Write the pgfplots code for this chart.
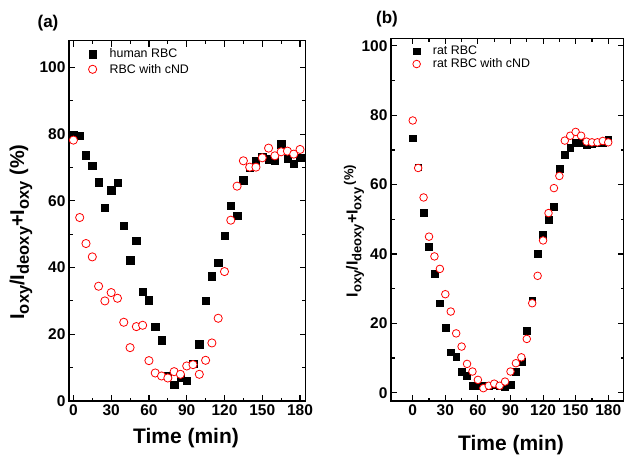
\documentclass[border=0pt]{standalone}
\usepackage{fontspec}
\setmainfont{Liberation Sans}
\usepackage{pgfplots}
\pgfplotsset{compat=1.18}
\definecolor{oxred}{HTML}{FF0000}
\newcommand\sub[2]{\raisebox{-0.45ex}{\fontsize{#1}{#1}\selectfont #2}}

\pgfplotsset{
  panel/.style={
    scale only axis,
    axis line style={line width=1.3pt},
    tick style={line width=1.1pt, black},
    tick align=inside,
    xtick pos=both, ytick pos=both,
    major tick length=6pt,
    minor tick length=3.5pt,
    xtick={0,30,...,180},
    minor xtick={15,45,...,165},
    ytick={0,20,...,100},
    minor ytick={10,30,...,90},
    /pgf/number format/assume math mode=true,
    ticklabel style={font=\bfseries\fontsize{15.5}{15.5}\selectfont},
    legend cell align=left,
    legend image code/.code={\draw[##1] plot coordinates {(4pt,0pt)};},
  },
  sq/.style={only marks, mark=square*, black, mark options={solid}},
  ci/.style={only marks, mark=*, oxred, mark options={solid, fill=white, line width=0.8pt}},
}

\begin{document}
\begin{tikzpicture}[x=1pt,y=1pt]
\useasboundingbox (0,0) rectangle (624,-457);

% ---- panel (a)
\begin{axis}[panel,
  at={(69pt,-401pt)}, anchor=south west,
  width=236.7pt, height=360.3pt,
  xmin=-3.5, xmax=184.5, ymin=0, ymax=108,
  legend style={at={(axis description cs:0.069,0.989)}, anchor=north west,
    draw=none, fill=none, font=\fontsize{12.4}{12.4}\selectfont,
    row sep=0.7pt, /tikz/every odd column/.append style={column sep=11pt}},
]
\addplot[sq, mark size=3.7pt] coordinates {
(0,79.9)(5,79.5)(10,73.7)(15,70.6)(20,65.6)(25,57.9)(30,63.2)(35,65.4)(40,52.6)(45,42.2)
(50,48.1)(55,32.7)(60,30.2)(65,22.2)(70,18.2)(75,7.5)(80,4.9)(85,7.0)(90,6.0)(95,11.2)
(100,17.0)(105,30.0)(110,37.4)(115,41.5)(120,49.5)(125,58.5)(130,55.5)(135,66.2)(140,69.9)
(145,72.0)(150,73.2)(155,72.5)(160,72.2)(165,77.0)(170,72.6)(175,71.2)(180,73.0)};
\addplot[ci, mark size=4.1pt] coordinates {
(0,78.2)(5,55.0)(10,47.2)(15,43.2)(20,34.4)(25,30.0)(30,32.5)(35,30.8)(40,23.6)(45,16.0)
(50,22.3)(55,22.7)(60,12.1)(65,8.4)(70,7.5)(75,6.9)(80,8.8)(85,8.0)(90,10.5)(95,10.9)
(100,8.0)(105,12.2)(110,17.4)(115,24.8)(120,38.8)(125,54.2)(130,64.4)(135,72.0)(140,70.1)
(145,70.1)(150,72.9)(155,75.8)(160,73.5)(165,74.7)(170,74.9)(175,74.0)(180,75.4)};
\legend{human RBC, RBC with cND}
\end{axis}

% ---- panel (b)
\begin{axis}[panel,
  at={(391pt,-401pt)}, anchor=south west,
  width=233pt, height=362.7pt,
  xmin=-20, xmax=194.5, ymin=-2.4, ymax=102.2,
  legend style={at={(axis description cs:0.08,0.99)}, anchor=north west,
    draw=none, fill=none, font=\fontsize{12.4}{12.4}\selectfont,
    row sep=-1.5pt, /tikz/every odd column/.append style={column sep=10.5pt}},
]
\addplot[sq, mark size=3.4pt] coordinates {
(0,73.4)(5,65.0)(10,52.0)(15,42.1)(20,34.3)(25,25.8)(30,18.8)(35,11.7)(40,10.3)(45,6.1)
(50,5.0)(55,2.0)(60,2.0)(65,1.9)(70,2.0)(75,2.2)(80,2.0)(85,1.8)(90,2.2)(95,6.1)
(100,9.0)(105,17.8)(110,26.5)(115,40.0)(120,45.6)(125,50.0)(130,53.7)(135,64.5)(140,68.7)
(145,70.6)(150,72.0)(155,72.0)(160,71.4)(165,71.9)(170,72.0)(175,72.2)(180,72.9)};
\addplot[ci, mark size=3.8pt] coordinates {
(0,78.5)(5,64.8)(10,56.3)(15,45.0)(20,39.3)(25,35.7)(30,28.4)(35,23.4)(40,17.1)(45,13.3)
(50,8.3)(55,6.1)(60,3.7)(65,1.3)(70,2.0)(75,2.6)(80,2.0)(85,3.2)(90,6.1)(95,8.5)
(100,10.2)(105,15.5)(110,25.8)(115,33.7)(120,43.9)(125,51.8)(130,59.0)(135,62.5)(140,72.7)
(145,74.1)(150,75.2)(155,74.1)(160,72.4)(165,72.2)(170,72.2)(175,72.6)(180,72.2)};
\legend{rat RBC, rat RBC with cND}
\end{axis}

% ---- labels
\node[font=\bfseries\fontsize{17}{17}\selectfont] at (48,-23) {(a)};
\node[font=\bfseries\fontsize{17}{17}\selectfont] at (387,-19) {(b)};
\node[font=\bfseries\fontsize{21}{21}\selectfont] at (186,-438) {Time (min)};
\node[font=\bfseries\fontsize{21}{21}\selectfont] at (511,-445) {Time (min)};
\node[rotate=90, font=\bfseries\fontsize{20}{20}\selectfont] at (21,-232)
  {I\sub{16.5}{oxy}/I\sub{16.5}{deoxy}+I\sub{16.5}{oxy} (\%)};
\node[rotate=90, font=\bfseries\fontsize{16}{16}\selectfont] at (354,-231)
  {I\sub{13}{oxy}/I\sub{13}{deoxy}+I\sub{13}{oxy}\,\raisebox{0.5ex}{\fontsize{13}{13}\selectfont(\%)}};
\end{tikzpicture}
\end{document}
